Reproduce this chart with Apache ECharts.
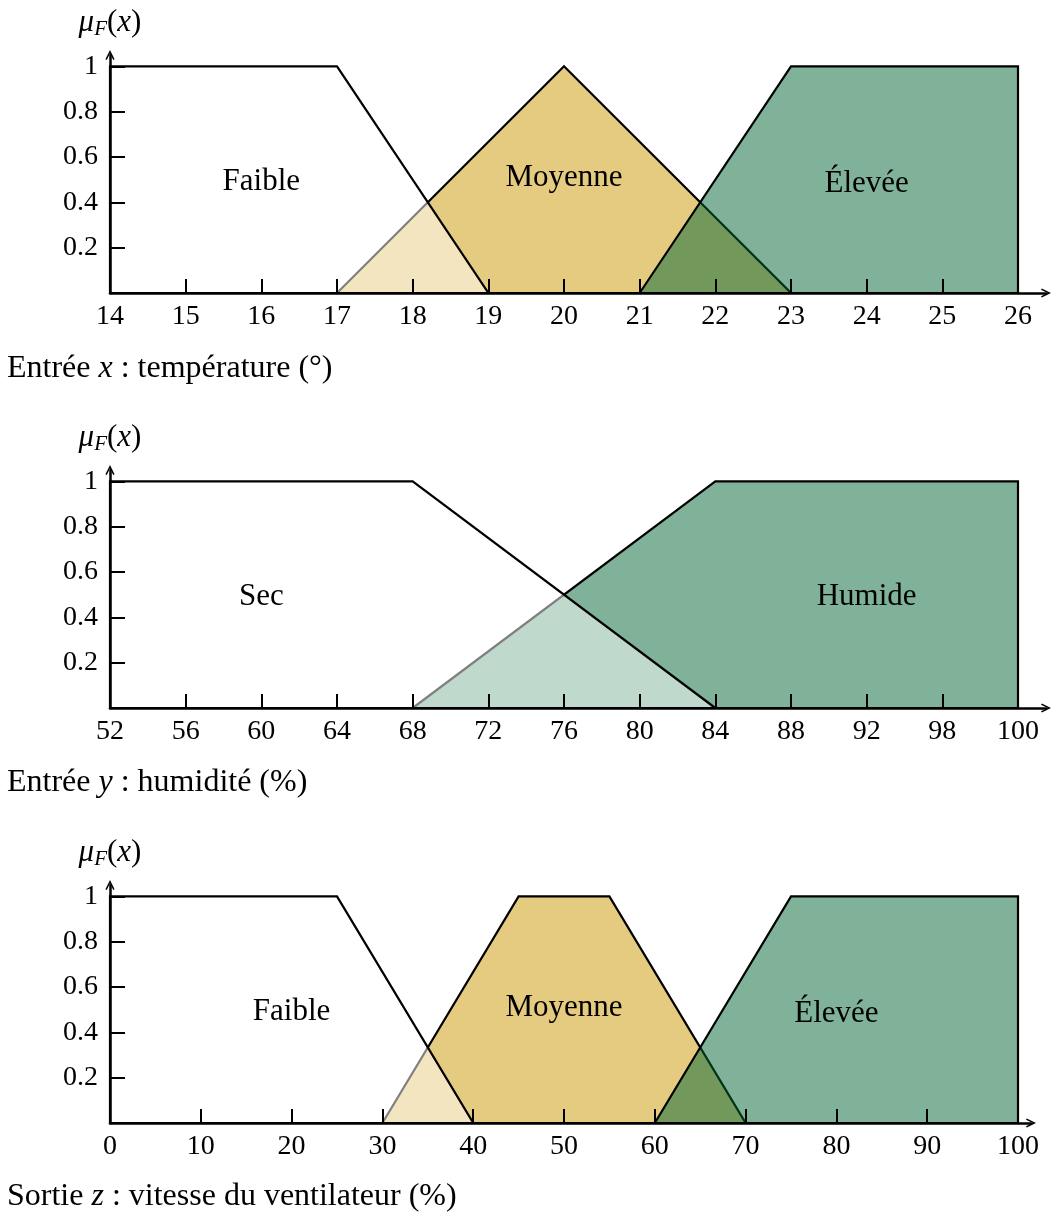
<!DOCTYPE html>
<html>
<head>
<meta charset="utf-8">
<script src="https://cdn.jsdelivr.net/npm/echarts@6/dist/echarts.min.js"></script>
<style>
  html, body { margin: 0; padding: 0; background: #fff; }
  #chart { width: 1051px; height: 1214px; }
</style>
</head>
<body>
<div id="chart"></div>
<script>
// membership functions, one array of [x, mu] vertices per fuzzy set
var tempFaible = [[14, 0], [14, 1], [17, 1], [19, 0]];
var tempMoyenne = [[17, 0], [20, 1], [23, 0]];
var tempElevee = [[21, 0], [23, 1], [26, 1], [26, 0]];

var humSec = [[52, 0], [52, 1], [68, 1], [84, 0]];
var humHumide = [[68, 0], [84, 1], [100, 1], [100, 0]];

var ventFaible = [[0, 0], [0, 1], [25, 1], [40, 0]];
var ventMoyenne = [[30, 0], [45, 1], [55, 1], [70, 0]];
var ventElevee = [[60, 0], [75, 1], [100, 1], [100, 0]];

// set names and where they sit (data coords)
var tempNames = ["Faible", "Moyenne", "Élevée"];
var tempNameX = [16, 20, 24];
var tempNameY = [0.49, 0.51, 0.48];
var humNames = ["Sec", "Humide"];
var humNameX = [60, 92];
var humNameY = [0.49, 0.49];
var ventNames = ["Faible", "Moyenne", "Élevée"];
var ventNameX = [20, 50, 80];
var ventNameY = [0.49, 0.51, 0.48];

// ticks
var tempTicks = [14, 15, 16, 17, 18, 19, 20, 21, 22, 23, 24, 25, 26];
var humTicks = [52, 56, 60, 64, 68, 72, 76, 80, 84, 88, 92, 96, 100];
var humTickLabels = ["52", "56", "60", "64", "68", "72", "76", "80", "84", "88", "92", "98", "100"];
var ventTicks = [0, 10, 20, 30, 40, 50, 60, 70, 80, 90, 100];
var muTicks = [0.2, 0.4, 0.6, 0.8, 1];

var axisTitles = ["Entrée {i|x} : température (°)", "Entrée {i|y} : humidité (%)", "Sortie {i|z} : vitesse du ventilateur (%)"];

var FONT = "Liberation Serif";
var MOY = "rgba(203,151,1,0.5)";
var ELE = "rgba(1,101,53,0.5)";
var WHITE = "rgba(255,255,255,0.5)";

var chart = echarts.init(document.getElementById("chart"));

// open arrow head, like the tikz "to" tip
var arrowPath = "path://M0,10 L5,0 L10,10 L8.5,10.9 L5,3.6 L1.5,10.9 Z";

function xAxisFor(idx, min, max, ticks, fmt) {
  return {
    type: "value",
    gridIndex: idx,
    min: min,
    max: max,
    z: 5,
    axisLine: {
      lineStyle: { color: "#000", width: 2.5 },
      symbol: ["none", arrowPath],
      symbolSize: [14, 10]
    },
    axisTick: {
      inside: true,
      length: 14,
      customValues: ticks,
      lineStyle: { color: "#000", width: 2 }
    },
    axisLabel: {
      customValues: ticks,
      margin: 10,
      color: "#000",
      fontFamily: FONT,
      fontSize: 28,
      formatter: fmt
    },
    splitLine: { show: false }
  };
}

function yAxisFor(idx) {
  return {
    type: "value",
    gridIndex: idx,
    min: 0,
    max: 1.05,
    z: 5,
    name: "{i|μ}{s|F}{n|(}{i|x}{n|)}",
    nameLocation: "end",
    nameGap: 15,
    nameTextStyle: {
      color: "#000",
      rich: {
        i: { fontFamily: FONT, fontStyle: "italic", fontSize: 31, lineHeight: 34, color: "#000", verticalAlign: "middle" },
        n: { fontFamily: FONT, fontSize: 31, lineHeight: 34, color: "#000", verticalAlign: "middle" },
        s: { fontFamily: FONT, fontStyle: "italic", fontSize: 21, lineHeight: 14, color: "#000", verticalAlign: "bottom" }
      }
    },
    axisLine: {
      lineStyle: { color: "#000", width: 2.5 },
      symbol: ["none", arrowPath],
      symbolSize: [14, 10]
    },
    axisTick: {
      inside: true,
      length: 15,
      customValues: muTicks,
      lineStyle: { color: "#000", width: 2 }
    },
    axisLabel: {
      customValues: muTicks,
      margin: 12,
      color: "#000",
      fontFamily: FONT,
      fontSize: 28,
      formatter: function (v) { return v === 1 ? "1" : String(+v.toFixed(1)); }
    },
    splitLine: { show: false }
  };
}

function shape(idx, verts, fill) {
  return {
    type: "custom",
    xAxisIndex: idx,
    yAxisIndex: idx,
    silent: true,
    data: verts,
    renderItem: function (params, api) {
      if (params.dataIndex !== 0) return null;
      var pts = verts.map(function (v) { return api.coord(v); });
      return {
        type: "polygon",
        shape: { points: pts },
        style: { fill: fill, stroke: "#000", lineWidth: 2.2, lineJoin: "miter" }
      };
    }
  };
}

function names(idx, list, xs, ys) {
  return {
    type: "scatter",
    xAxisIndex: idx,
    yAxisIndex: idx,
    silent: true,
    symbolSize: 0,
    z: 10,
    data: list.map(function (n, i) { return { name: n, value: [xs[i], ys[i]] }; }),
    label: {
      show: true,
      position: "inside",
      formatter: "{b}",
      color: "#000",
      opacity: 1,
      textBorderWidth: 0,
      textShadowBlur: 0,
      fontFamily: FONT,
      fontSize: 31
    }
  };
}

var titleStyle = {
  color: "#000",
  fontFamily: FONT,
  fontWeight: "normal",
  fontSize: 32,
  rich: { i: { fontFamily: FONT, fontStyle: "italic", fontSize: 32, color: "#000" } }
};

var option = {
  animation: false,
  backgroundColor: "#fff",
  title: [
    { text: axisTitles[0], left: 7, top: 353, padding: 0, textStyle: titleStyle },
    { text: axisTitles[1], left: 7, top: 767, padding: 0, textStyle: titleStyle },
    { text: axisTitles[2], left: 7, top: 1181, padding: 0, textStyle: titleStyle }
  ],
  grid: [
    { left: 110, top: 55, width: 936, height: 238 },
    { left: 110, top: 470, width: 936, height: 238 },
    { left: 110, top: 885, width: 921, height: 238 }
  ],
  xAxis: [
    xAxisFor(0, 14, 26.37, tempTicks, function (v) { return String(v); }),
    xAxisFor(1, 52, 101.48, humTicks, function (v) { return humTickLabels[humTicks.indexOf(v)]; }),
    xAxisFor(2, 0, 101.43, ventTicks, function (v) { return String(v); })
  ],
  yAxis: [yAxisFor(0), yAxisFor(1), yAxisFor(2)],
  series: [
    shape(0, tempMoyenne, MOY),
    shape(0, tempElevee, ELE),
    shape(0, tempFaible, WHITE),
    names(0, tempNames, tempNameX, tempNameY),

    shape(1, humHumide, ELE),
    shape(1, humSec, WHITE),
    names(1, humNames, humNameX, humNameY),

    shape(2, ventMoyenne, MOY),
    shape(2, ventElevee, ELE),
    shape(2, ventFaible, WHITE),
    names(2, ventNames, ventNameX, ventNameY)
  ]
};

chart.setOption(option);
</script>
</body>
</html>
